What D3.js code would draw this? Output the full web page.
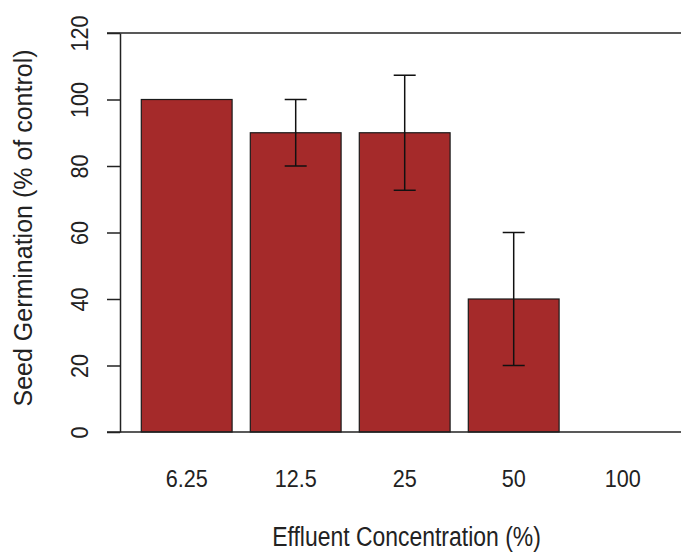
<!DOCTYPE html>
<html>
<head>
<meta charset="utf-8">
<script src="https://cdn.jsdelivr.net/npm/d3@7"></script>
<style>
  body { margin: 0; background: white; }
  text { font-family: "Liberation Sans", Arial, sans-serif; fill: #222; }
</style>
</head>
<body>
<div id="chart"></div>
<script>
// ----- Data -------
const concentrations = ["6.25", "12.5", "25", "50", "100"];
const germination = [100, 90, 90, 40, 0];
const errors = [0, 10, 17.3, 20, 0];
const yTicks = [0, 20, 40, 60, 80, 100, 120];

const svg = d3.select("#chart").append("svg").attr("width", 681).attr("height", 552);

// ----- Scales -------
const x = d3.scaleBand()
  .domain(concentrations)
  .range([132.2, 677.2])
  .paddingInner(0.167)
  .paddingOuter(0.0835);

const y = d3.scaleLinear()
  .domain([0, 120])
  .range([432, 33]);

// ----- Bars -------
svg.selectAll(".bar")
  .data(germination)
  .enter()
  .append("rect")
  .attr("class", "bar")
  .attr("x", (d, i) => x(concentrations[i]))
  .attr("y", d => y(d))
  .attr("width", x.bandwidth())
  .attr("height", d => y(0) - y(d))
  .attr("fill", "#a52a2a")
  .attr("stroke", "#1a1a1a")
  .attr("stroke-width", 1.2);

// ----- Error bars -------
const err = svg.append("g");
germination.forEach((d, i) => {
  if (errors[i] <= 0) return;
  const cx = x(concentrations[i]) + x.bandwidth() / 2;
  err.append("line")
    .attr("x1", cx).attr("x2", cx)
    .attr("y1", y(d + errors[i])).attr("y2", y(d - errors[i]))
    .attr("stroke", "#111").attr("stroke-width", 1.5);
  [d + errors[i], d - errors[i]].forEach(v => {
    err.append("line")
      .attr("x1", cx - 11).attr("x2", cx + 11)
      .attr("y1", y(v)).attr("y2", y(v))
      .attr("stroke", "#111").attr("stroke-width", 1.5);
  });
});

// ----- Horizontal lines at 0 and 120 -------
[0, 120].forEach(v => {
  svg.append("line")
    .attr("x1", 107).attr("x2", 681)
    .attr("y1", y(v)).attr("y2", y(v))
    .attr("stroke", "#222").attr("stroke-width", 1.5);
});

// ----- Y axis -------
const yAxis = svg.append("g")
  .attr("transform", "translate(120,0)")
  .call(d3.axisLeft(y).tickValues(yTicks).tickSize(13).tickSizeOuter(0));

yAxis.select(".domain").attr("stroke", "#222").attr("stroke-width", 1.5);
yAxis.selectAll(".tick line").attr("stroke", "#222").attr("stroke-width", 1.5);
yAxis.selectAll(".tick text")
  .attr("x", 0)
  .attr("dy", 0)
  .attr("text-anchor", "middle")
  .attr("transform", "translate(-32,0) rotate(-90) scale(0.9,1)")
  .style("font-size", "24px")
  .style("font-family", "Liberation Sans, Arial, sans-serif")
  .attr("fill", "#222");

// ----- X axis labels -------
const xAxis = svg.append("g")
  .attr("transform", "translate(0," + y(0) + ")")
  .call(d3.axisBottom(x).tickSize(0));

xAxis.select(".domain").remove();
xAxis.selectAll(".tick text")
  .attr("y", 55)
  .attr("dy", 0)
  .attr("transform", "scale(0.9,1)")
  .style("font-size", "24px")
  .style("font-family", "Liberation Sans, Arial, sans-serif")
  .attr("fill", "#222");

// ----- Axis titles -------
svg.append("text")
  .attr("transform", "translate(406.5,546) scale(0.85,1)")
  .attr("text-anchor", "middle")
  .style("font-size", "27px")
  .text("Effluent Concentration (%)");

svg.append("text")
  .attr("transform", "translate(32,228) rotate(-90)")
  .attr("text-anchor", "middle")
  .style("font-size", "25px")
  .text("Seed Germination (% of control)");
</script>
</body>
</html>
